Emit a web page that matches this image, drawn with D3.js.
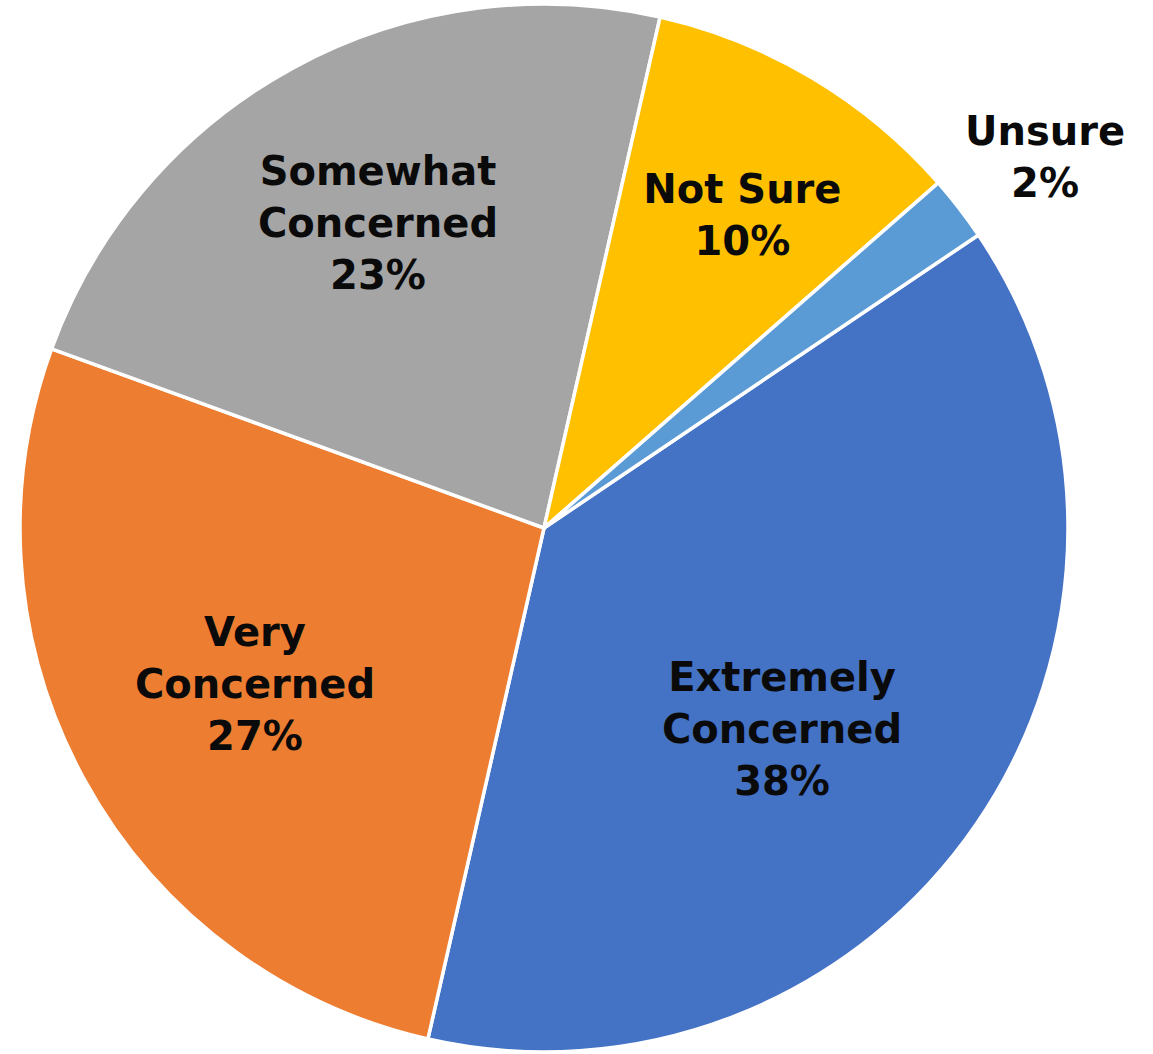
<!DOCTYPE html>
<html>
<head>
<meta charset="utf-8">
<style>
  body { margin: 0; background: #fff; }
  svg { display: block; }
  .lbl { font-family: "DejaVu Sans", sans-serif; font-weight: bold; font-size: 40px; fill: #0a0a0a; }
</style>
</head>
<body>
<div id="chartId"></div>
<script src="https://cdn.jsdelivr.net/npm/d3@7/dist/d3.min.js"></script>
<script>

// Survey answers, in the order they run clockwise round the pie
const categories = ['Extremely Concerned', 'Very Concerned', 'Somewhat Concerned', 'Not Sure', 'Unsure'];
const values = [38, 27, 23, 10, 2];
const labelLines = [['Extremely', 'Concerned'], ['Very', 'Concerned'], ['Somewhat', 'Concerned'], ['Not Sure'], ['Unsure']];
const colors = ['#4472C4', '#ED7D31', '#A5A5A5', '#FFC000', '#5B9BD5'];

const width = 1153, height = 1054;
const cx = 544, cy = 528, radius = 524;
const firstSliceAngle = 56; // degrees clockwise from 12 o'clock

const svg = d3.select('#chartId').append('svg')
  .attr('width', width)
  .attr('height', height);

const chart = svg.append('g').attr('transform', 'translate(' + cx + ',' + cy + ')');

const data = categories.map((c, i) => ({ name: c, value: values[i], lines: labelLines[i], color: colors[i] }));

const start = firstSliceAngle * Math.PI / 180;
const pie = d3.pie().sort(null).value(d => d.value)
  .startAngle(start).endAngle(start + 2 * Math.PI);

const arc = d3.arc().innerRadius(0).outerRadius(radius);
const inLabel = d3.arc().innerRadius(radius * 0.65).outerRadius(radius * 0.65);
const outLabel = d3.arc().innerRadius(radius * 1.19).outerRadius(radius * 1.19);

// best-fit tweaks so the labels sit clear of the slice edges
const nudge = {
  'Extremely Concerned': [-43, 8],
  'Very Concerned': [10, -7],
  'Somewhat Concerned': [-3, -6],
  'Not Sure': [24, -21],
  'Unsure': [7, 9]
};

const slices = pie(data);

chart.selectAll('path.slice')
  .data(slices).enter()
  .append('path')
  .attr('class', 'slice')
  .attr('d', arc)
  .attr('fill', d => d.data.color)
  .attr('stroke', '#fff')
  .attr('stroke-width', 3.5)
  .attr('stroke-linejoin', 'round');

// small slices get their label outside the pie
const labels = chart.selectAll('text.lbl')
  .data(slices).enter()
  .append('text')
  .attr('class', 'lbl')
  .attr('text-anchor', 'middle')
  .attr('transform', d => {
    const p = (d.data.value < 5 ? outLabel : inLabel).centroid(d);
    const n = nudge[d.data.name] || [0, 0];
    return 'translate(' + (p[0] + n[0]) + ',' + (p[1] + n[1]) + ')';
  });

labels.each(function (d) {
  const rows = d.data.lines.concat([d.data.value + '%']);
  const lineH = 52;
  const top = -(rows.length - 1) * lineH / 2;
  d3.select(this).selectAll('tspan')
    .data(rows).enter()
    .append('tspan')
    .attr('x', 0)
    .attr('y', (r, i) => top + i * lineH)
    .attr('dy', '0.36em')
    .text(r => r);
});

</script>
</body>
</html>
